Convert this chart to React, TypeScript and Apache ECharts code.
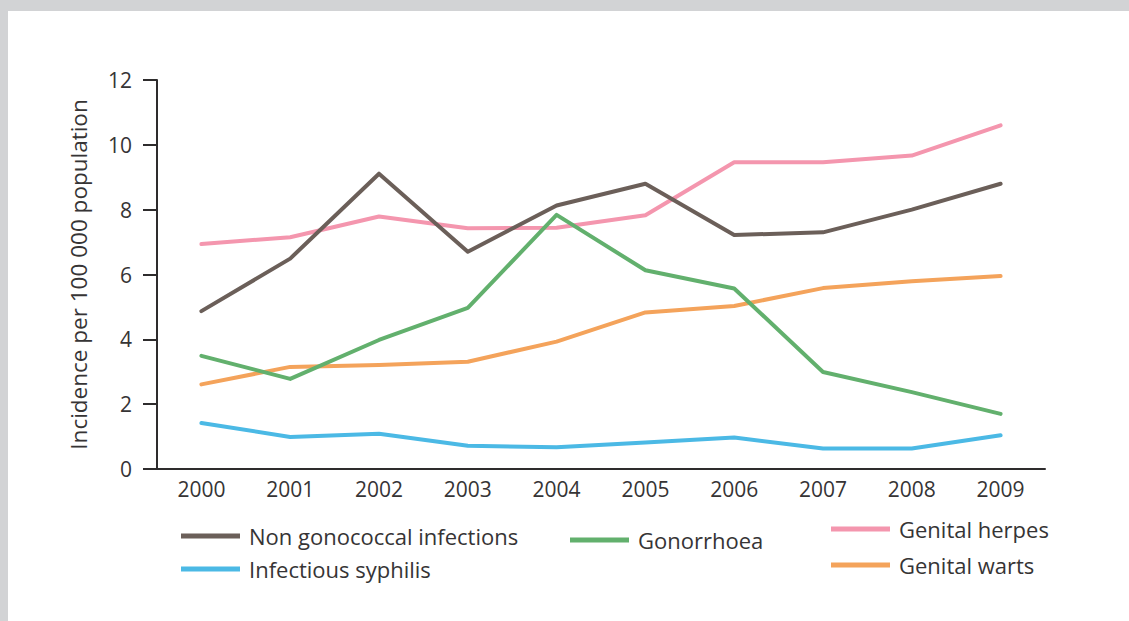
import React, { useEffect, useRef } from "react";
import * as echarts from "echarts";

const years = ["2000", "2001", "2002", "2003", "2004", "2005", "2006", "2007", "2008", "2009"];
const nonGonococcal = [4.87, 6.49, 9.11, 6.7, 8.13, 8.8, 7.22, 7.3, 8.0, 8.8];
const gonorrhoea = [3.49, 2.78, 3.98, 4.97, 7.84, 6.13, 5.57, 2.99, 2.37, 1.7];
const genitalHerpes = [6.94, 7.15, 7.79, 7.43, 7.44, 7.83, 9.46, 9.46, 9.67, 10.6];
const genitalWarts = [2.61, 3.15, 3.21, 3.31, 3.93, 4.83, 5.03, 5.58, 5.79, 5.95];
const infectiousSyphilis = [1.42, 0.99, 1.09, 0.72, 0.67, 0.82, 0.97, 0.63, 0.63, 1.04];
const yTicks = { min: 0, max: 12, interval: 2 };
const yAxisTitle = "Incidence per 100 000 population";

const FONT = "Open Sans";
const TEXT = "#363435";
const AXIS = "#2e2c2d";

export default function App() {
  const ref = useRef<HTMLDivElement>(null);
  useEffect(() => {
    if (!ref.current) return;
    const chart = echarts.init(ref.current, undefined, { renderer: "svg" });
    const mk = (name: string, data: number[], color: string, z: number) => ({
      name,
      type: "line",
      data,
      symbol: "none",
      z,
      lineStyle: { color, width: 4, cap: "round", join: "round" },
      itemStyle: { color },
    });
    const legendBase = {
      orient: "vertical",
      icon: "rect",
      itemWidth: 59,
      itemHeight: 5,
      textStyle: { fontFamily: FONT, fontSize: 22, color: TEXT, padding: [0, 0, 0, 4], lineHeight: 22 },
      selectedMode: false,
    };
    chart.setOption({
      animation: false,
      backgroundColor: "#d2d3d5",
      graphic: [
        { type: "rect", z: -10, shape: { x: 8, y: 11, width: 1121, height: 610 }, style: { fill: "#ffffff" } },
      ],
      grid: { left: 157, right: 84, top: 80, bottom: 152 },
      legend: [
        { ...legendBase, left: 176, top: 520, itemGap: 11, data: ["Non gonococcal infections", "Infectious syphilis"] },
        { ...legendBase, left: 565, top: 524, data: ["Gonorrhoea"] },
        { ...legendBase, left: 826, top: 513, itemGap: 14, data: ["Genital herpes", "Genital warts"] },
      ],
      xAxis: {
        type: "category",
        data: years,
        boundaryGap: true,
        axisLine: { lineStyle: { color: AXIS, width: 2 } },
        axisTick: { length: 11, lineStyle: { color: AXIS, width: 2 } },
        axisLabel: { fontFamily: FONT, fontSize: 21, color: TEXT, margin: 9 },
      },
      yAxis: {
        type: "value",
        min: yTicks.min,
        max: yTicks.max,
        interval: yTicks.interval,
        name: yAxisTitle,
        nameLocation: "middle",
        nameGap: 67,
        nameTextStyle: { fontFamily: FONT, fontSize: 22.5, color: TEXT },
        splitLine: { show: false },
        axisLine: { show: true, lineStyle: { color: AXIS, width: 2 } },
        axisTick: { show: true, length: 14, lineStyle: { color: AXIS, width: 2 } },
        axisLabel: { fontFamily: FONT, fontSize: 21, color: TEXT, margin: 25 },
      },
      series: [
        mk("Genital herpes", genitalHerpes, "#f496ae", 2),
        mk("Genital warts", genitalWarts, "#f4a35b", 3),
        mk("Gonorrhoea", gonorrhoea, "#62b06d", 4),
        mk("Non gonococcal infections", nonGonococcal, "#6b5f59", 5),
        mk("Infectious syphilis", infectiousSyphilis, "#4bb9e5", 6),
      ],
    });
    return () => chart.dispose();
  }, []);
  return (
    <div
      ref={ref}
      style={{ position: "fixed", left: 0, top: 0, width: 1129, height: 621 }}
    />
  );
}
